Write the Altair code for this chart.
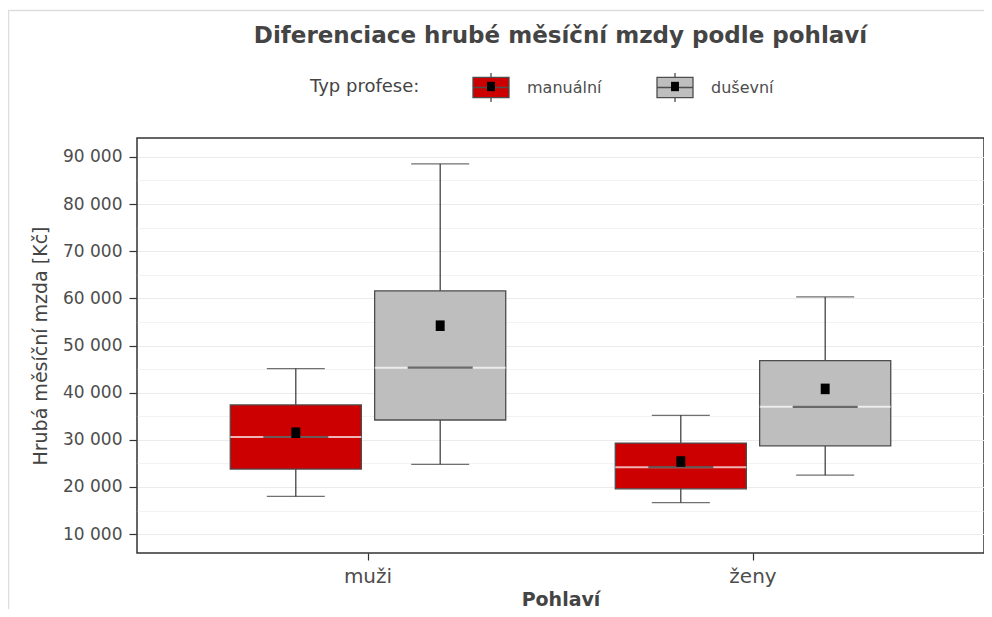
import altair as alt
import pandas as pd

# ---- data ----
gender = ["muži", "muži", "ženy", "ženy"]
prof_type = ["manuální", "duševní", "manuální", "duševní"]
whisker_low = [18000, 24800, 16700, 22500]
q1 = [23800, 34200, 19600, 28700]
median = [30600, 45300, 24200, 37000]
q3 = [37400, 61600, 29300, 46800]
whisker_high = [45100, 88500, 35200, 60300]
mean = [31500, 54200, 25400, 40800]

categories = ["muži", "ženy"]
types = ["manuální", "duševní"]
type_colors = ["#CC0000", "#BEBEBE"]
y_ticks = [10000, 15000, 20000, 25000, 30000, 35000, 40000, 45000, 50000,
           55000, 60000, 65000, 70000, 75000, 80000, 85000, 90000]

ZW = "\u200b"  # zero-width marker so the overlay legend keeps its own scale
types_overlay = [t + ZW for t in types]

df = pd.DataFrame({
    "Pohlaví": gender,
    "Typ": prof_type,
    "Typ2": [t + ZW for t in prof_type],
    "low": whisker_low,
    "q1": q1,
    "median": median,
    "q3": q3,
    "high": whisker_high,
    "mean": mean,
})

FONT = "DejaVu Sans"
TXT = "#4d4d4d"
BOXSTROKE = "#4d4d4d"
KEY_PATH = "M-1,-0.56L1,-0.56L1,0.56L-1,0.56Z M0,-0.56L0,-0.8 M0,0.56L0,0.8 M-1,0L1,0"
MEAN_PATH = "M-0.22,-0.26L0.22,-0.26L0.22,0.26L-0.22,0.26Z"

LEG_X = 173
LEG_Y = -69.5
TITLE_W = 111      # rendered width of "Typ profese:"
TITLE_PAD = 52
LABEL1_W = 79      # rendered width of "manuální" (incl. spacing)
COL_PAD = 52

x_enc = alt.X(
    "Pohlaví:N",
    scale=alt.Scale(domain=categories, paddingInner=0.25, paddingOuter=0.225),
    axis=alt.Axis(title="Pohlaví", labelAngle=0, domain=False, grid=False,
                  tickSize=7, tickColor="#333", tickWidth=1.2,
                  labelPadding=6, labelFont=FONT, labelFontSize=20,
                  labelColor=TXT, titleFont=FONT, titleFontSize=19,
                  titleFontWeight="bold", titleColor="#444", titlePadding=4),
)
xoff = alt.XOffset("Typ:N", scale=alt.Scale(domain=types, paddingInner=0.092, paddingOuter=0.046))
y_scale = alt.Scale(domain=[6000, 94000], nice=False, zero=False)
y_axis = alt.Axis(
    title="Hrubá měsíční mzda [Kč]",
    values=y_ticks,
    labelExpr="datum.value % 10000 ? '' : replace(format(datum.value, ','), ',', ' ')",
    domain=False,
    tickSize=8, tickColor="#333", tickWidth=1.2,
    tickOpacity={"condition": {"test": "datum.value % 10000", "value": 0}, "value": 1},
    gridColor="#ebebeb",
    gridWidth={"condition": {"test": "datum.value % 10000", "value": 0.6}, "value": 1.1},
    labelPadding=7, labelFont=FONT, labelFontSize=17, labelColor=TXT,
    titleFont=FONT, titleFontSize=19, titleFontWeight="normal", titleColor="#444",
    titlePadding=12,
)

base = alt.Chart(df)

frame = alt.Chart(pd.DataFrame({"a": [0]})).mark_rect(
    fill=None, stroke="#dddddd", strokeWidth=1.5
).encode(x=alt.value(-128.5), x2=alt.value(1200), y=alt.value(-127.5), y2=alt.value(900))

whisker = base.mark_rule(color="#333", strokeWidth=1.2).encode(
    x=x_enc, xOffset=xoff,
    y=alt.Y("low:Q", scale=y_scale, axis=y_axis), y2="high:Q",
)
cap_low = base.mark_tick(color="#333", size=58, thickness=1.3).encode(
    x=x_enc, xOffset=xoff, y=alt.Y("low:Q", scale=y_scale, axis=y_axis)
)
cap_high = base.mark_tick(color="#333", size=58, thickness=1.3).encode(
    x=x_enc, xOffset=xoff, y=alt.Y("high:Q", scale=y_scale, axis=y_axis)
)
box = base.mark_bar(stroke=BOXSTROKE, strokeWidth=1.3).encode(
    x=x_enc, xOffset=xoff,
    y=alt.Y("q1:Q", scale=y_scale, axis=y_axis), y2="q3:Q",
    fill=alt.Fill(
        "Typ:N",
        scale=alt.Scale(domain=types, range=type_colors),
        legend=alt.Legend(
            orient="none", legendX=LEG_X, legendY=LEG_Y, direction="horizontal",
            title="Typ profese:", titleOrient="left", titleAnchor="middle",
            titleBaseline="middle", titleFont=FONT, titleFontSize=18,
            titleFontWeight="normal", titlePadding=TITLE_PAD, titleColor="#444",
            symbolSize=1296, symbolType=KEY_PATH, symbolStrokeColor=BOXSTROKE,
            symbolStrokeWidth=1.3,
            labelFont=FONT, labelFontSize=16, labelColor=TXT,
            labelOffset=17, columnPadding=COL_PAD,
        ),
    ),
)
med_gap = base.mark_tick(color="white", size=131, thickness=2).encode(
    x=x_enc, xOffset=xoff, y=alt.Y("median:Q", scale=y_scale, axis=y_axis)
)
med_line = base.mark_tick(color="#333", size=65, thickness=2.2).encode(
    x=x_enc, xOffset=xoff, y=alt.Y("median:Q", scale=y_scale, axis=y_axis)
)
# mean squares; their (label-less) legend sits on the legend keys above
mean_pt = base.mark_point(filled=True, color="black", opacity=1, size=1650).encode(
    x=x_enc, xOffset=xoff,
    y=alt.Y("mean:Q", scale=y_scale, axis=y_axis),
    shape=alt.Shape(
        "Typ2:N",
        scale=alt.Scale(domain=types_overlay, range=[MEAN_PATH, MEAN_PATH]),
        legend=alt.Legend(
            orient="none", legendX=LEG_X + TITLE_W + TITLE_PAD, legendY=LEG_Y,
            direction="horizontal", title=None,
            symbolSize=1296, symbolFillColor="black", symbolStrokeWidth=0,
            labelExpr="''", labelFontSize=16, labelOffset=17,
            columnPadding=LABEL1_W + COL_PAD,
        ),
    ),
)

chart = alt.layer(
    frame, whisker, cap_low, cap_high, box, med_gap, med_line, mean_pt
).properties(
    width=847,
    height=415,
    title=alt.TitleParams(
        "Diferenciace hrubé měsíční mzdy podle pohlaví",
        font=FONT, fontSize=23, fontWeight="bold", color="#444",
        anchor="middle", offset=0, dy=38,
    ),
    autosize=alt.AutoSizeParams(type="none"),
    padding={"left": 129, "top": 130, "right": 0, "bottom": 56},
).configure_view(
    stroke="#333", strokeWidth=1.5
)

chart.save("out.html", embed_options={"renderer": "svg", "actions": False})
